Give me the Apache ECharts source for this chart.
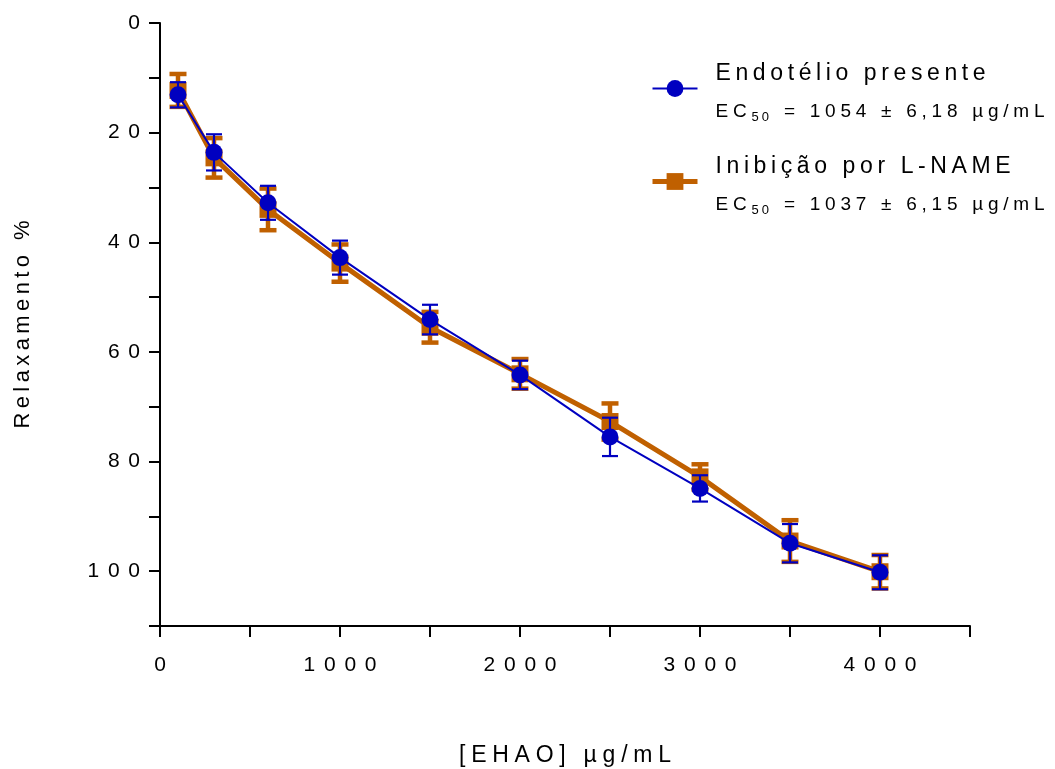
<!DOCTYPE html>
<html>
<head>
<meta charset="utf-8">
<script src="https://cdn.jsdelivr.net/npm/echarts@6/dist/echarts.min.js"></script>
<style>
    html, body { margin: 0; padding: 0; background: #fff; }
    #chart { width: 1055px; height: 769px; }
</style>
</head>
<body>
<div id="chart"></div>
<script>
    // dados
    const doses = [100, 300, 600, 1000, 1500, 2000, 2500, 3000, 3500, 4000];
    const endotelio = [13.1, 23.6, 32.8, 42.8, 54.1, 64.2, 75.5, 84.9, 94.9, 100.2];
    const endotelioErr = [2.3, 3.3, 3.1, 3.1, 2.7, 2.6, 3.5, 2.4, 3.5, 3.1];
    const lname = [12.3, 24.6, 34.0, 43.8, 55.5, 64.0, 72.7, 82.8, 94.5, 100.1];
    const lnameErr = [3.0, 3.6, 3.8, 3.4, 2.8, 2.7, 3.3, 2.3, 3.8, 3.05];
    const nomes = ['Endotélio presente', 'Inibição por L-NAME'];
    const ec50 = ['1054 ± 6,18', '1037 ± 6,15'];

    const BLUE = '#0000C0';
    const ORANGE = '#C06000';
    const FONT = '"Liberation Sans", Arial, sans-serif';

    // espaçamento entre letras
    function sp(str, gap) {
        return str.split('').join(gap);
    }

    function pares(ys) {
        return doses.map((x, i) => [x, ys[i]]);
    }

    function barras(ys, errs) {
        return doses.map((x, i) => [x, ys[i] - errs[i], ys[i] + errs[i]]);
    }

    function errorBar(color, width, capW) {
        return function (params, api) {
            const lo = api.coord([api.value(0), api.value(1)]);
            const hi = api.coord([api.value(0), api.value(2)]);
            const st = { stroke: color, lineWidth: width };
            return {
                type: 'group',
                children: [
                    { type: 'line', shape: { x1: lo[0], y1: lo[1], x2: hi[0], y2: hi[1] }, style: st },
                    { type: 'line', shape: { x1: lo[0] - capW / 2, y1: lo[1], x2: lo[0] + capW / 2, y2: lo[1] }, style: st },
                    { type: 'line', shape: { x1: hi[0] - capW / 2, y1: hi[1], x2: hi[0] + capW / 2, y2: hi[1] }, style: st }
                ]
            };
        };
    }

    const tickGap = '\u2004\u200A';

    const chart = echarts.init(document.getElementById('chart'));

    chart.setOption({
        animation: false,
        grid: { left: 160, top: 23, right: 85, bottom: 143, outerBoundsMode: 'none' },
        legend: {
            orient: 'vertical',
            left: 645,
            top: 57,
            itemWidth: 45,
            itemHeight: 21,
            itemGap: 31,
            data: [
                { name: nomes[0], lineStyle: { width: 2 } },
                { name: nomes[1], lineStyle: { width: 5 } }
            ],
            formatter: function (name) {
                const i = nomes.indexOf(name);
                return '{a|' + sp(name, '\u2009') + '}\n{b|' + sp('EC', '\u2005') + '\u2005}{s|' + sp('50', '\u2005') +
                    '}{b|\u2005' + sp(' = ' + ec50[i] + ' µg/mL', '\u2005') + '}';
            },
            textStyle: {
                color: '#000',
                fontFamily: FONT,
                padding: [8, 0, 0, 13],
                rich: {
                    a: { fontSize: 23, lineHeight: 38, fontFamily: FONT, color: '#000' },
                    b: { fontSize: 19, lineHeight: 38, fontFamily: FONT, color: '#000' },
                    s: { fontSize: 13, lineHeight: 38, fontFamily: FONT, color: '#000', padding: [12, 0, 0, 0] }
                }
            }
        },
        xAxis: {
            type: 'value',
            position: 'bottom',
            min: 0,
            max: 4500,
            interval: 500,
            name: sp('[EHAO] µg/mL', '\u2005'),
            nameLocation: 'middle',
            nameGap: 118,
            nameTextStyle: { color: '#000', fontSize: 23, fontFamily: FONT },
            axisLine: { show: true, onZero: false, lineStyle: { color: '#000', width: 2 } },
            axisTick: { show: true, length: 11, lineStyle: { color: '#000', width: 2 } },
            axisLabel: {
                margin: 29,
                color: '#000',
                fontSize: 21,
                fontFamily: FONT,
                formatter: v => (v % 1000 === 0 ? sp(String(v), tickGap) : '')
            },
            splitLine: { show: false }
        },
        yAxis: {
            type: 'value',
            inverse: true,
            min: 0,
            max: 110,
            interval: 10,
            name: sp('Relaxamento %', '\u2009'),
            nameLocation: 'middle',
            nameGap: 126,
            nameTextStyle: { color: '#000', fontSize: 22, fontFamily: FONT },
            axisLine: { show: true, lineStyle: { color: '#000', width: 2 } },
            axisTick: { show: true, length: 11, lineStyle: { color: '#000', width: 2 } },
            axisLabel: {
                margin: 20,
                color: '#000',
                fontSize: 21,
                fontFamily: FONT,
                formatter: v => (v % 20 === 0 ? sp(String(v), tickGap) : '')
            },
            splitLine: { show: false }
        },
        series: [
            {
                name: nomes[1] + ' erro',
                type: 'custom',
                z: 1,
                renderItem: errorBar(ORANGE, 4.5, 17),
                encode: { x: 0, y: [1, 2] },
                data: barras(lname, lnameErr)
            },
            {
                name: nomes[1],
                type: 'line',
                z: 2,
                data: pares(lname),
                symbol: 'rect',
                symbolSize: 17,
                lineStyle: { color: ORANGE, width: 5 },
                itemStyle: { color: ORANGE }
            },
            {
                name: nomes[0] + ' erro',
                type: 'custom',
                z: 3,
                renderItem: errorBar(BLUE, 2.2, 16),
                encode: { x: 0, y: [1, 2] },
                data: barras(endotelio, endotelioErr)
            },
            {
                name: nomes[0],
                type: 'line',
                z: 4,
                data: pares(endotelio),
                symbol: 'circle',
                symbolSize: 17,
                lineStyle: { color: BLUE, width: 2 },
                itemStyle: { color: BLUE }
            }
        ]
    });
</script>
</body>
</html>
